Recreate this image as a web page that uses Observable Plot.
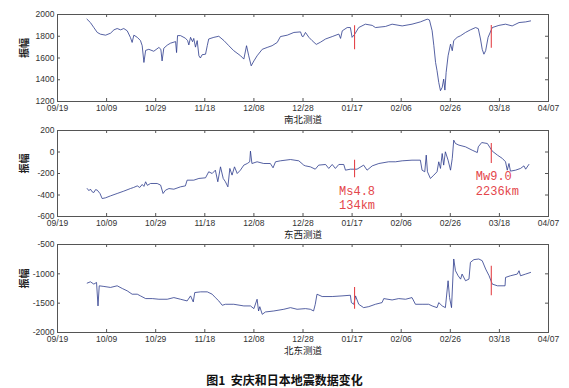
<!DOCTYPE html>
<html><head><meta charset="utf-8">
<script src="https://cdn.jsdelivr.net/npm/d3@7"></script>
<script src="https://cdn.jsdelivr.net/npm/@observablehq/plot@0.6"></script>
<style>
body{margin:0;background:#fff;width:569px;}
#title{font-family:"Noto Sans CJK SC";font-weight:bold;font-size:12px;line-height:14px;text-align:center;padding-top:19px;color:#111;white-space:pre;}
</style></head><body><div id="chart"></div><div id="title">图1  安庆和日本地震数据变化</div>
<script>
// days after 2010-09-19
const xTickDays = [0,20,40,60,80,100,120,140,160,180,200];
const xTickLabels = ["09/19","10/09","10/29","11/18","12/08","12/28","01/17","02/06","02/26","03/18","04/07"];

const nsDays = [12,13.4,14.8,16.2,17.5,19.6,21.6,23,24.3,25.7,27,28.4,29.7,30.4,31.1,32.5,33.8,34.5,35.2,35.9,37.2,39.2,41.3,42.1,42.6,43.3,44.7,46,48.1,48.5,48.9,50.1,52.1,53,53.5,54.2,55,55.5,56.2,56.9,57.6,58.2,58.9,60.3,61,61.6,63.7,65.7,67.8,69.8,71.8,74.6,75.9,77,77.9,78.9,80,81.3,83.4,85.4,87.4,89.5,90.8,93.6,96.3,99,99.6,100.1,101,102.4,103.7,105.4,107.1,109.2,111.9,114.6,115.3,116,118,119.3,120,121.1,122.7,125.4,128.2,129.5,133.6,136.3,140.4,144.4,147.8,150.6,151.5,152.6,153.3,154,154.6,155.3,156,156.7,157.3,157.8,158.3,159.1,160.1,160.8,161.4,162.8,164.2,166.2,168.2,170.3,171.4,172.3,173,173.7,174.4,175.4,177.1,179.8,182.5,185.2,188,190.7,192.7];
const nsVals = [1957,1926,1880,1835,1819,1810,1828,1859,1871,1859,1871,1850,1789,1743,1810,1790,1760,1713,1559,1670,1680,1662,1697,1680,1573,1690,1718,1736,1751,1650,1806,1806,1782,1760,1720,1790,1750,1780,1700,1760,1620,1600,1630,1635,1713,1775,1790,1800,1760,1713,1667,1620,1590,1713,1620,1528,1573,1620,1680,1697,1713,1743,1797,1810,1835,1840,1800,1797,1835,1790,1760,1725,1745,1775,1797,1820,1780,1850,1880,1880,1790,1820,1880,1911,1900,1880,1890,1911,1895,1911,1932,1957,1950,1850,1713,1559,1483,1375,1299,1330,1406,1305,1467,1620,1728,1667,1760,1790,1805,1835,1859,1880,1870,1775,1680,1635,1667,1790,1880,1900,1911,1895,1926,1932,1941];

const ewDays = [12.1,12.8,13.4,14.1,14.8,15.5,16.2,17.3,18.2,19.6,21.6,24.3,27,29.7,31,32.5,33.5,34.5,35.2,35.9,36.6,37.9,40.6,42,43,44,45.4,47.4,50.1,52.1,52.8,55.5,57.6,60.3,61.6,63,64.3,65.3,66.4,67.5,68.4,69.4,70.2,71.1,72.1,73.2,74.5,75.9,77.3,78.3,78.6,79.2,81.3,84,86.7,87.8,88.8,90.8,94.9,98.3,100.3,101,103,105,106.4,109.2,110.5,111.9,113.2,114.6,116.6,117.3,119.3,122,124.7,126.1,128.2,130.9,134.9,137.7,140.4,144.4,147.8,148.5,149.6,150.2,150.7,151.9,153.3,154.6,155.3,156,156.7,157.3,158,159.1,160.1,160.8,161.4,162.1,163.5,166.2,168.9,171,171.4,172.8,175.1,177.1,179.2,181.2,182.5,183.2,183.9,184.5,186.6,188.6,190,190.7,192];
const ewVals = [-340,-360,-345,-370,-377,-350,-355,-386,-433,-426,-408,-386,-364,-340,-330,-315,-330,-302,-320,-277,-310,-293,-293,-308,-386,-355,-340,-346,-324,-315,-262,-262,-246,-240,-184,-200,-169,-277,-138,-246,-277,-324,-153,-215,-138,-200,-169,-122,-107,-91,8,-107,-91,-107,-107,-147,-91,-82,-70,-82,-122,-129,-138,-160,-122,-116,-153,-116,-153,-116,-116,-169,-160,-160,-122,-169,-129,-107,-91,-91,-82,-76,-76,-169,-184,-29,-184,-246,-215,-184,-91,-153,-14,-122,2,-76,-169,-60,110,79,64,48,17,-5,48,88,79,8,-29,-60,-91,-169,-107,-178,-169,-153,-129,-160,-116];

const neDays = [12.1,13.4,14.8,15.9,16.5,17,18.9,21.6,24.3,26.4,28.4,30.4,32.5,33.8,35.9,38.6,41.3,44.7,47.4,50.1,52.8,54.2,55.3,55.9,58.3,61,63,64.3,65.7,67.1,68.4,71.8,75.9,78.6,80,81.3,81.9,82.4,83.4,84.7,88.1,92.2,94.9,97.6,101,103,104.3,105,105.7,107.8,111.9,115.9,119.3,119.7,120.7,121.4,122.7,124.7,126.8,129.5,132.2,132.9,136.3,139,141.8,144.4,145.8,148.5,151.2,152.6,154.6,155.3,156.7,158,159.1,159.7,160.5,161.4,162.1,163.2,164.2,164.8,166.2,167.6,168.2,169.6,171.6,173,174.4,175.8,177.1,179.2,182.3,182.5,184.5,187.3,188,188.6,190.7,192.7];
const neVals = [-1158,-1136,-1175,-1147,-1547,-1204,-1215,-1232,-1204,-1250,-1290,-1347,-1347,-1376,-1422,-1422,-1433,-1433,-1405,-1433,-1462,-1376,-1479,-1319,-1307,-1307,-1347,-1405,-1462,-1536,-1519,-1519,-1547,-1547,-1593,-1433,-1633,-1560,-1690,-1650,-1633,-1604,-1576,-1604,-1593,-1604,-1633,-1519,-1347,-1387,-1387,-1376,-1365,-1490,-1519,-1376,-1519,-1576,-1559,-1519,-1490,-1422,-1445,-1422,-1433,-1405,-1519,-1519,-1519,-1547,-1576,-1490,-1547,-1576,-1118,-1405,-1576,-747,-947,-1033,-1090,-1004,-1118,-1090,-804,-758,-747,-776,-918,-1033,-1175,-1204,-1204,-1061,-1033,-1004,-947,-1033,-1004,-976];

// earthquake marker days and red segment extents per panel
const quakeDays = [121, 176.7];
const nsSegs = [[1896,1676],[1899,1690]];
const ewSegs = [[-76,-240],[79,-107]];
const neSegs = [[-1233,-1605],[-872,-1375]];
const quakeNotes = ["Ms4.8\n134km", "Mw9.0\n2236km"];

const t0 = Date.UTC(2010, 8, 19);
const toDate = d => new Date(t0 + d * 864e5);
const xTickDates = xTickDays.map(toDate);
const labelMap = new Map(xTickDates.map((d, i) => [+d, xTickLabels[i]]));

const ML = 57, MR = 21, W = 569;
const RED = "#e4464b", BLUE = "#2b3a8c", FRAME = "#555";

function panel({days, vals, yDomain, yTicks, segs, title, height, mt, mb, notes}) {
  const data = days.map((d, i) => ({t: toDate(d), v: vals[i]}));
  const segData = segs.map((s, i) => ({t: toDate(quakeDays[i]), a: s[0], b: s[1], note: quakeNotes[i]}));
  const fh = height - mt - mb, fw = W - ML - MR;
  const marks = [
    Plot.lineY(data, {x: "t", y: "v", stroke: BLUE, strokeWidth: 0.8}),
    Plot.ruleX(segData, {x: "t", y1: "a", y2: "b", stroke: RED, strokeWidth: 1.1}),
    Plot.frame({stroke: FRAME}),
    Plot.tickX(xTickDates, {x: d => d, insetBottom: fh - 3, stroke: FRAME}),
    Plot.tickX(xTickDates, {x: d => d, insetTop: fh - 3, stroke: FRAME}),
    Plot.tickY(yTicks, {y: d => d, insetRight: fw - 3, stroke: FRAME}),
    Plot.tickY(yTicks, {y: d => d, insetLeft: fw - 3, stroke: FRAME}),
    Plot.axisX(xTickDates, {tickSize: 0, tickPadding: 3, label: null, tickFormat: d => labelMap.get(+d), fill: "#333"}),
    Plot.axisY(yTicks, {tickSize: 0, tickPadding: 3, label: null, tickFormat: d => String(d), fill: "#333"}),
    Plot.text([title], {frameAnchor: "bottom", dy: 18.5, lineAnchor: "middle", fontFamily: "Noto Sans CJK SC", fontSize: 9.5, fill: "#222"}),
    Plot.text(["振幅"], {frameAnchor: "left", dx: -33, rotate: -90, lineAnchor: "middle", fontFamily: "Noto Sans CJK SC", fontSize: 10, fontWeight: "bold", fill: "#222"})
  ];
  if (notes) marks.push(Plot.text(segData, {x: "t", y: "b", text: "note", textAnchor: "start", lineAnchor: "bottom", dx: -15.5, dy: 31, lineHeight: 1.19, fontFamily: "Liberation Mono", fontSize: 12, fill: RED}));
  return Plot.plot({
    width: W, height, marginTop: mt, marginBottom: mb, marginLeft: ML, marginRight: MR,
    style: {fontFamily: "Liberation Sans", fontSize: "8.5px", color: "#333", background: "#fff", overflow: "visible"},
    x: {type: "utc", domain: [toDate(0), toDate(200)]},
    y: {domain: yDomain},
    marks
  });
}

const chart = document.getElementById("chart");
chart.append(panel({days: nsDays, vals: nsVals, yDomain: [1200, 2000], yTicks: [1200,1400,1600,1800,2000], segs: nsSegs, title: "南北测道", height: 124, mt: 14, mb: 23}));
chart.append(panel({days: ewDays, vals: ewVals, yDomain: [-600, 200], yTicks: [-600,-400,-200,0,200], segs: ewSegs, title: "东西测道", height: 114, mt: 6, mb: 22, notes: true}));
chart.append(panel({days: neDays, vals: neVals, yDomain: [-2000, -500], yTicks: [-2000,-1500,-1000,-500], segs: neSegs, title: "北东测道", height: 116, mt: 6, mb: 22}));
</script>
</body></html>
